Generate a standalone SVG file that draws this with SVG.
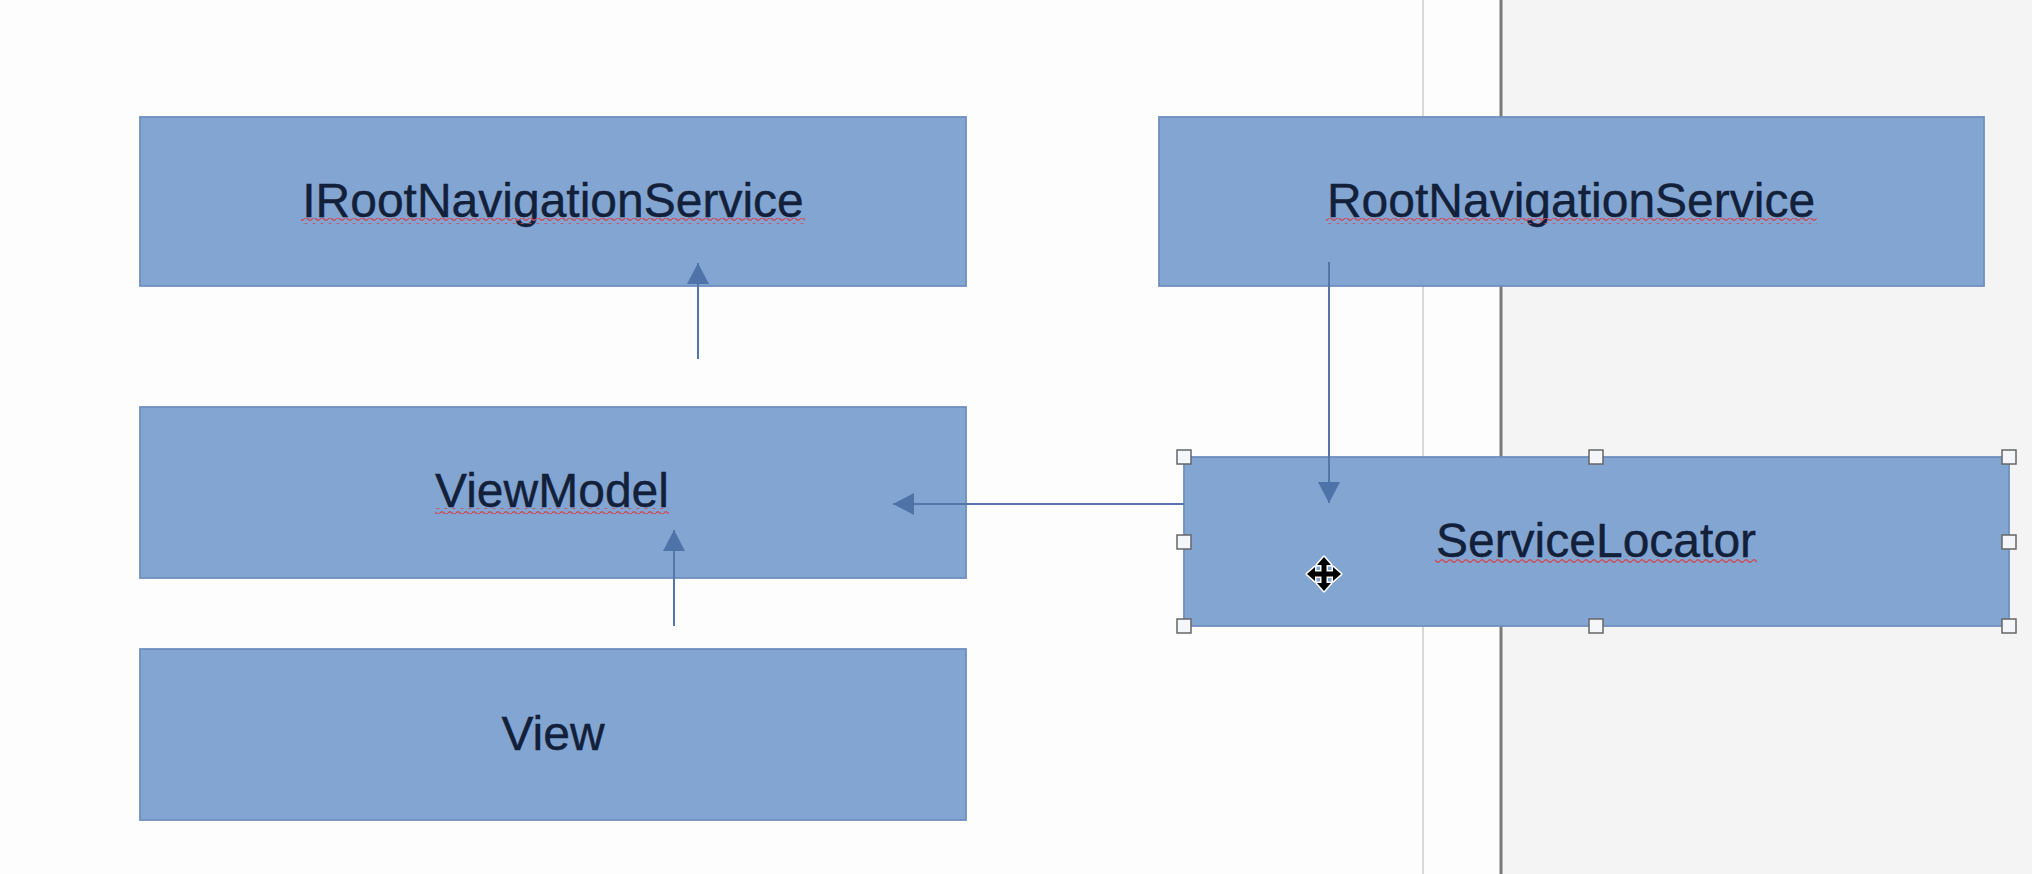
<svg xmlns="http://www.w3.org/2000/svg" width="2032" height="874" viewBox="0 0 2032 874">
<defs>
<style>
.box{fill:#83a5d2;stroke:#6f8fc0;stroke-width:1.8}
.lbl{font-family:"Liberation Sans",Arial,sans-serif;font-size:48px;fill:#13203a;stroke:#13203a;stroke-width:0.4;text-anchor:middle}
.con{stroke:#5676ab;stroke-width:2;fill:none;marker-end:url(#ah)}
.wave{fill:url(#wv)}
.hdl{fill:#f4f6fa;stroke:#666;stroke-width:1.5}
</style>
<marker id="ah" markerUnits="userSpaceOnUse" markerWidth="22" markerHeight="22" refX="21" refY="11" orient="auto">
<path d="M0,0 L21,11 L0,22 Z" fill="#4f72a8"/>
</marker>
<pattern id="wv" patternUnits="userSpaceOnUse" width="8" height="6">
<path d="M0,3 Q2,0.5 4,3 T8,3" stroke="#c9505c" stroke-width="1.5" fill="none"/>
</pattern>
</defs>
<rect x="0" y="0" width="2032" height="874" fill="#fdfdfd"/>
<rect x="1501" y="0" width="531" height="874" fill="#f4f4f4"/>
<line x1="1423" y1="0" x2="1423" y2="874" stroke="#d9d9d9" stroke-width="2"/>
<line x1="1501" y1="0" x2="1501" y2="874" stroke="#7a7a7a" stroke-width="3"/>
<g id="node-irootnav">
<rect class="box" x="140" y="117" width="826" height="169"/>
<text class="lbl" x="553" y="217">IRootNavigationService</text>
<rect class="wave" x="301" y="218" width="504" height="6"/>
</g>
<g id="node-viewmodel">
<rect class="box" x="140" y="407" width="826" height="171"/>
<text class="lbl" x="552" y="507">ViewModel</text>
<rect class="wave" x="435" y="508" width="234" height="6"/>
</g>
<g id="node-view">
<rect class="box" x="140" y="649" width="826" height="171"/>
<text class="lbl" x="553" y="750">View</text>
</g>
<g id="node-rootnav">
<rect class="box" x="1159" y="117" width="825" height="169"/>
<text class="lbl" x="1571" y="217">RootNavigationService</text>
<rect class="wave" x="1326" y="218" width="491" height="6"/>
</g>
<g id="node-servicelocator">
<rect class="box" x="1184" y="457" width="825" height="169"/>
<text class="lbl" x="1596" y="557">ServiceLocator</text>
<rect class="wave" x="1435" y="559" width="322" height="6"/>
</g>
<g id="connectors">
<line class="con" x1="698" y1="359" x2="698" y2="263"/>
<line class="con" x1="674" y1="626" x2="674" y2="530"/>
<line class="con" x1="1184" y1="504" x2="893" y2="504"/>
<line class="con" x1="1329" y1="262" x2="1329" y2="503"/>
</g>
<g id="selection">
<rect class="hdl" x="1177" y="450" width="14" height="14"/>
<rect class="hdl" x="1589" y="450" width="14" height="14"/>
<rect class="hdl" x="2002" y="450" width="14" height="14"/>
<rect class="hdl" x="1177" y="535" width="14" height="14"/>
<rect class="hdl" x="2002" y="535" width="14" height="14"/>
<rect class="hdl" x="1177" y="619" width="14" height="14"/>
<rect class="hdl" x="1589" y="619" width="14" height="14"/>
<rect class="hdl" x="2002" y="619" width="14" height="14"/>
</g>
<g id="cursor" transform="translate(1324,574)">
<path d="M0,-17 L7,-9 L2.5,-9 L2.5,-2.5 L9,-2.5 L9,-7 L17,0 L9,7 L9,2.5 L2.5,2.5 L2.5,9 L7,9 L0,17 L-7,9 L-2.5,9 L-2.5,2.5 L-9,2.5 L-9,7 L-17,0 L-9,-7 L-9,-2.5 L-2.5,-2.5 L-2.5,-9 L-7,-9 Z" fill="#000" stroke="#fff" stroke-width="3" stroke-linejoin="round" paint-order="stroke"/>
</g>
</svg>
